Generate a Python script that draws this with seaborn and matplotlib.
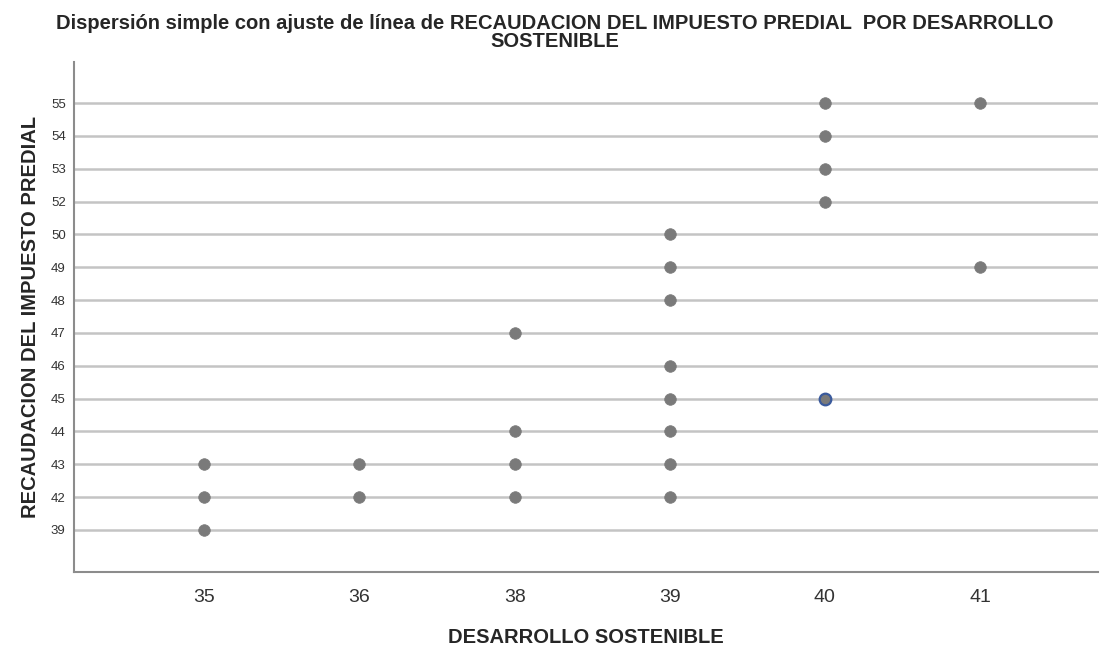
import numpy as np
import pandas as pd
import matplotlib
matplotlib.use('Agg')
import matplotlib.pyplot as plt
import seaborn as sns

x_levels = [35, 36, 38, 39, 40, 41]
y_levels = [39, 42, 43, 44, 45, 46, 47, 48, 49, 50, 52, 53, 54, 55]

desarrollo = [35, 35, 35,
              36, 36,
              38, 38, 38, 38,
              39, 39, 39, 39, 39, 39, 39, 39,
              40, 40, 40, 40, 40,
              41, 41]
recaudacion = [43, 42, 39,
               43, 42,
               47, 44, 43, 42,
               50, 49, 48, 46, 45, 44, 43, 42,
               55, 54, 53, 52, 45,
               55, 49]

df = pd.DataFrame({'desarrollo': desarrollo, 'recaudacion': recaudacion})
# SPSS draws both axes as equally spaced categories
df['xpos'] = pd.Categorical(df['desarrollo'], categories=x_levels).codes
df['ypos'] = pd.Categorical(df['recaudacion'], categories=y_levels).codes
highlight = (df['desarrollo'] == 40) & (df['recaudacion'] == 45)

sns.set_style('white')
plt.rcParams['font.family'] = ['Liberation Sans', 'DejaVu Sans']

fig = plt.figure(figsize=(11.1, 6.46), dpi=100)
ax = fig.add_axes([74 / 1110, 1 - 572 / 646, (1098 - 74) / 1110, (572 - 62) / 646])

for i in range(len(y_levels)):
    ax.axhline(i, color='#c4c4c4', lw=1.8, zorder=0)

sns.scatterplot(x='xpos', y='ypos', data=df[~highlight], ax=ax, s=70,
                color='#7a7a7a', edgecolor='#7a7a7a', linewidth=0.5, zorder=3)
sns.scatterplot(x='xpos', y='ypos', data=df[highlight], ax=ax, s=70,
                color='#7a7a7a', edgecolor='#3a5a9c', linewidth=1.6, zorder=4)

ax.set_xlim(-0.84, 5.76)
ax.set_ylim(-1.28, 14.25)
ax.set_xticks(range(len(x_levels)))
ax.set_xticklabels([str(v) for v in x_levels], fontsize=14, color='#333333')
ax.set_yticks(range(len(y_levels)))
ax.set_yticklabels([str(v) for v in y_levels], fontsize=9.5, color='#333333')
ax.tick_params(axis='both', length=0)
ax.tick_params(axis='x', pad=12)
ax.tick_params(axis='y', pad=6)

for side in ['top', 'right']:
    ax.spines[side].set_visible(False)
for side in ['left', 'bottom']:
    ax.spines[side].set_color('#8c8c8c')
    ax.spines[side].set_linewidth(1.5)

ax.set_xlabel('DESARROLLO SOSTENIBLE', fontsize=14.5, fontweight='bold', labelpad=16)
ax.set_ylabel('RECAUDACION DEL IMPUESTO PREDIAL', fontsize=14.5, fontweight='bold', labelpad=8)

fig.text(0.5, 0.979, 'Dispersión simple con ajuste de línea de RECAUDACION DEL IMPUESTO PREDIAL  POR DESARROLLO\nSOSTENIBLE',
         ha='center', va='top', fontsize=14.5, fontweight='bold', linespacing=0.95)

fig.savefig('out.png', dpi=100)
plt.close(fig)
